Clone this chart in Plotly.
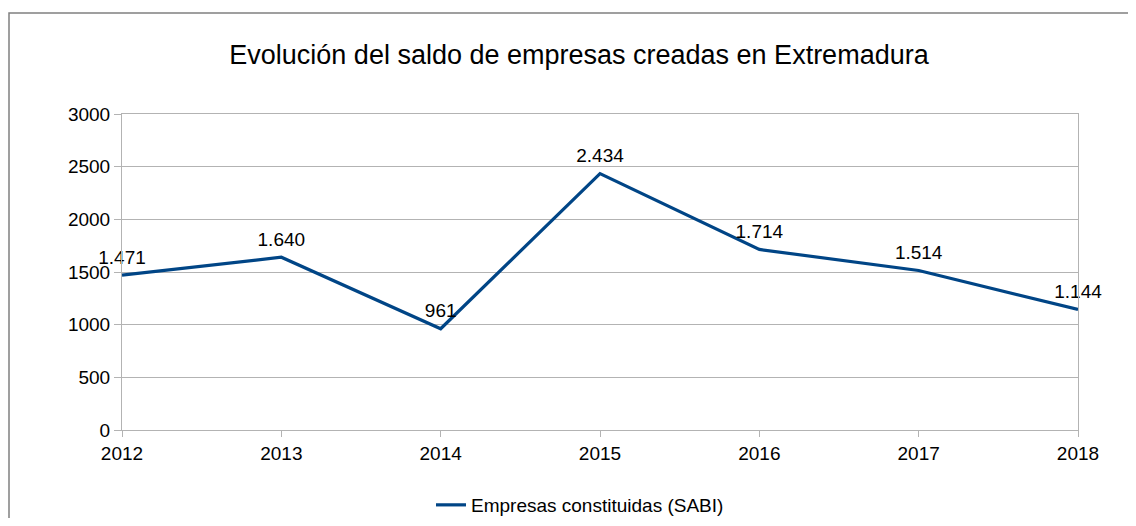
import plotly.graph_objects as go

years = [2012, 2013, 2014, 2015, 2016, 2017, 2018]
values = [1471, 1640, 961, 2434, 1714, 1514, 1144]
labels = ["1.471", "1.640", "961", "2.434", "1.714", "1.514", "1.144"]
y_ticks = [0, 500, 1000, 1500, 2000, 2500, 3000]
series_name = "Empresas constituidas (SABI)"
title = "Evolución del saldo de empresas creadas en Extremadura"

FONT = "Liberation Sans, Arial, sans-serif"
GRID = "#b3b3b3"

# page body has an 8px margin: figure is drawn from (8, 8)
OFF = 8
W, H = 1120, 510
PL, PR, PT, PB = 122 - OFF, 1078 - OFF, 114 - OFF, 430 - OFF  # plot area in figure px
PW, PH = PR - PL, PB - PT

fig = go.Figure()
fig.add_trace(go.Scatter(
    x=years, y=values, mode="lines", name=series_name,
    line=dict(color="#004586", width=3.2),
    cliponaxis=False,
))
fig.add_trace(go.Scatter(
    x=years, y=values, mode="markers+text", name=series_name, showlegend=False,
    text=labels, textposition="top center",
    textfont=dict(family=FONT, size=19, color="#000000"),
    marker=dict(size=9, opacity=0, color="#004586"),
    cliponaxis=False, hoverinfo="skip",
))

fig.update_layout(
    width=W, height=H,
    margin=dict(l=PL, r=W - PR, t=PT, b=H - PB, pad=0, autoexpand=False),
    paper_bgcolor="white", plot_bgcolor="white",
    font=dict(family=FONT, size=19, color="#000000"),
    title=dict(text=title, x=(579 - 122) / PW, xref="paper", xanchor="center",
               y=1 - (55 - OFF) / H, yref="container", yanchor="middle",
               font=dict(family=FONT, size=27, color="#000000")),
    showlegend=True,
    legend=dict(orientation="h", x=(580 - 122) / PW, xanchor="center", xref="paper",
                y=1 - (505 - OFF) / H, yanchor="middle", yref="container",
                font=dict(family=FONT, size=19, color="#000000"), bgcolor="rgba(0,0,0,0)"),
    shapes=[dict(type="rect", xref="paper", yref="paper",
                 x0=(9 - 122) / PW, y0=(430 - 13) / PH,
                 x1=(1150 - 122) / PW, y1=(430 - 540) / PH,
                 line=dict(color="#808080", width=1.5), layer="below")],
)

fig.update_xaxes(
    range=[2012, 2018], tickmode="array", tickvals=years, ticktext=[str(y) for y in years],
    showgrid=False, showline=True, linecolor=GRID, linewidth=1, mirror=True,
    ticks="outside", ticklen=6, tickcolor=GRID, zeroline=False, automargin=False,
    tickfont=dict(family=FONT, size=19, color="#000000"),
)
fig.update_yaxes(
    range=[0, 3000], tickmode="array", tickvals=y_ticks, ticktext=[str(v) for v in y_ticks],
    showgrid=True, gridcolor=GRID, gridwidth=1, showline=True, linecolor=GRID, linewidth=1,
    mirror=True, ticks="outside", ticklen=7, tickcolor=GRID, zeroline=False, automargin=False,
    tickfont=dict(family=FONT, size=19, color="#000000"),
)

fig.write_html("out.html")
